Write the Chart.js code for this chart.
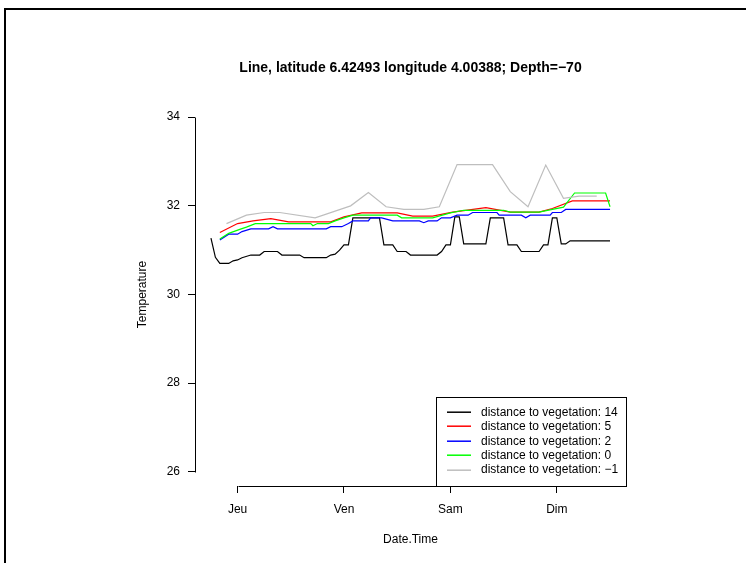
<!DOCTYPE html>
<html>
<head>
<meta charset="utf-8">
<script src="https://cdn.jsdelivr.net/npm/chart.js@4/dist/chart.umd.min.js"></script>
<style>
  html, body { margin: 0; padding: 0; background: #fff; }
  #wrap { width: 746px; height: 563px; }
</style>
</head>
<body>
<div id="wrap"><canvas id="chart" width="746" height="563"></canvas></div>
<script>
// hours since Thursday 00:00 (Jeu)
const dayTicks = [0, 24, 48, 72];
const dayLabels = ["Jeu", "Ven", "Sam", "Dim"];
const tempTicks = [26, 28, 30, 32, 34];

const hours14 = [-6, -5, -4, -2, -1, 0, 1, 3, 5, 6, 9, 10, 14, 15, 20, 21, 22, 23, 24, 25, 26, 32, 33, 35, 36, 38, 39, 45, 46, 47, 48, 49, 50, 51, 56, 57, 60, 61, 63, 64, 68, 69, 70, 71, 72, 73, 74, 75, 84];
const temp14 = [31.27, 30.84, 30.70, 30.70, 30.76, 30.78, 30.83, 30.89, 30.89, 30.97, 30.97, 30.89, 30.89, 30.83, 30.83, 30.89, 30.91, 31.00, 31.12, 31.12, 31.73, 31.73, 31.12, 31.12, 30.97, 30.97, 30.89, 30.89, 30.97, 31.12, 31.12, 31.75, 31.75, 31.14, 31.14, 31.73, 31.73, 31.12, 31.12, 30.97, 30.97, 31.12, 31.12, 31.73, 31.73, 31.14, 31.14, 31.21, 31.21];

const hours5 = [-4, 0, 3.5, 7.5, 11.5, 21, 24, 28, 36, 39.5, 44, 48.5, 56, 61.5, 68, 71, 75.5, 84];
const temp5 = [31.40, 31.60, 31.66, 31.71, 31.64, 31.64, 31.75, 31.84, 31.84, 31.77, 31.77, 31.86, 31.96, 31.86, 31.86, 31.94, 32.11, 32.11];

const hours2 = [-4, -2, 0, 1, 3, 7, 8, 9, 20, 21, 23.5, 25, 26, 29.5, 30, 32.5, 35, 41, 42, 43, 45, 46, 48, 49.5, 52, 53, 58.5, 59, 64, 65, 66, 70.5, 71, 73, 74, 84];
const temp2 = [31.23, 31.36, 31.36, 31.42, 31.48, 31.48, 31.53, 31.48, 31.48, 31.53, 31.53, 31.60, 31.66, 31.66, 31.73, 31.73, 31.66, 31.66, 31.62, 31.66, 31.66, 31.73, 31.73, 31.79, 31.79, 31.85, 31.85, 31.79, 31.79, 31.73, 31.79, 31.79, 31.85, 31.85, 31.92, 31.92];

const hours0 = [-4, -2, 0.5, 2, 4, 16.5, 17, 18, 20.5, 22, 24, 26, 36, 37, 44, 48, 51, 60, 61.5, 68, 71, 73.5, 76, 83, 84];
const temp0 = [31.25, 31.38, 31.47, 31.52, 31.60, 31.60, 31.55, 31.60, 31.60, 31.66, 31.73, 31.79, 31.79, 31.73, 31.73, 31.84, 31.90, 31.90, 31.86, 31.86, 31.92, 31.97, 32.29, 32.29, 31.98];

const hoursM1 = [-2.5, 2, 6, 9.5, 17.5, 25.5, 29.5, 33.5, 37.5, 42, 45.5, 49.5, 57.5, 61.5, 65.5, 69.5, 73.5, 77, 81];
const tempM1 = [31.60, 31.79, 31.85, 31.85, 31.73, 32.00, 32.30, 31.98, 31.92, 31.92, 31.98, 32.93, 32.93, 32.32, 31.98, 32.92, 32.17, 32.22, 32.22];

const seriesNames = ["distance to vegetation: 14", "distance to vegetation: 5", "distance to vegetation: 2", "distance to vegetation: 0", "distance to vegetation: \u22121"];
const seriesColors = ["#000000", "#FF0000", "#0000FF", "#00FF00", "#BEBEBE"];
const seriesHours = [hours14, hours5, hours2, hours0, hoursM1];
const seriesTemps = [temp14, temp5, temp2, temp0, tempM1];

const FONT = "'Liberation Sans', Arial, Helvetica, sans-serif";

function toPoints(hs, ts) {
  return hs.map((h, i) => ({ x: h, y: ts[i] }));
}

// R-like decorations: frame, titles, axis lines, legend box
const decor = {
  id: "decor",
  afterDraw(chart) {
    const ctx = chart.ctx;
    const a = chart.chartArea;
    const xs = chart.scales.x, ys = chart.scales.y;
    ctx.save();

    // outer frame
    ctx.strokeStyle = "#000";
    ctx.lineWidth = 2;
    ctx.strokeRect(5, 9, 900, 700);

    // axis lines from first to last tick
    ctx.lineWidth = 1;
    ctx.beginPath();
    const yTop = Math.round(ys.getPixelForValue(tempTicks[tempTicks.length - 1])) + 0.5;
    const yBot = Math.round(ys.getPixelForValue(tempTicks[0])) + 0.5;
    ctx.moveTo(a.left + 0.5, yTop);
    ctx.lineTo(a.left + 0.5, yBot);
    const xL = Math.round(xs.getPixelForValue(dayTicks[0])) + 0.5;
    const xR = Math.round(xs.getPixelForValue(dayTicks[dayTicks.length - 1])) + 0.5;
    ctx.moveTo(xL, a.bottom + 0.5);
    ctx.lineTo(xR, a.bottom + 0.5);
    ctx.stroke();

    // titles
    ctx.fillStyle = "#000";
    ctx.textAlign = "center";
    ctx.textBaseline = "middle";
    ctx.font = "bold 14px " + FONT;
    ctx.fillText("Line, latitude 6.42493 longitude 4.00388; Depth=\u221270", (a.left + a.right) / 2, 68);
    ctx.font = "12px " + FONT;
    ctx.fillText("Date.Time", (a.left + a.right) / 2, 540);
    ctx.save();
    ctx.translate(143, (a.top + a.bottom) / 2);
    ctx.rotate(-Math.PI / 2);
    ctx.fillText("Temperature", 0, 0);
    ctx.restore();

    // legend, bottom right of plot region
    ctx.font = "12px " + FONT;
    let maxW = 0;
    seriesNames.forEach(n => { maxW = Math.max(maxW, ctx.measureText(n).width); });
    const rowH = 14.4;
    const boxW = Math.round(11 + 24 + 10 + maxW + 8);
    const boxH = Math.round(rowH * seriesNames.length + 17);
    const bx = Math.round(a.right - boxW), by = Math.round(a.bottom - boxH);
    ctx.fillStyle = "#fff";
    ctx.fillRect(bx, by, boxW, boxH);
    ctx.strokeStyle = "#000";
    ctx.lineWidth = 1;
    ctx.strokeRect(bx + 0.5, by + 0.5, boxW, boxH);
    ctx.textAlign = "left";
    seriesNames.forEach((n, i) => {
      const ry = by + 15 + i * rowH;
      ctx.strokeStyle = seriesColors[i];
      ctx.lineWidth = 1.5;
      ctx.beginPath();
      ctx.moveTo(bx + 11, Math.round(ry) + 0.2);
      ctx.lineTo(bx + 35, Math.round(ry) + 0.2);
      ctx.stroke();
      ctx.fillStyle = "#000";
      ctx.fillText(n, bx + 45, ry + 0.5);
    });
    ctx.restore();
  }
};

const chart = new Chart(document.getElementById("chart"), {
  type: "line",
  data: {
    datasets: seriesNames.map((name, i) => ({
      label: name,
      data: toPoints(seriesHours[i], seriesTemps[i]),
      borderColor: seriesColors[i],
      backgroundColor: seriesColors[i],
      borderWidth: 1.2,
      pointRadius: 0,
      tension: 0,
      fill: false,
      order: seriesNames.length - i
    }))
  },
  options: {
    responsive: false,
    animation: false,
    devicePixelRatio: 1,
    layout: { padding: { left: 0, top: 103, right: 120, bottom: 0 } },
    plugins: {
      legend: { display: false },
      title: { display: false },
      tooltip: { enabled: false }
    },
    scales: {
      x: {
        type: "linear",
        min: -9.6,
        max: 87.6,
        afterBuildTicks: s => { s.ticks = dayTicks.map(v => ({ value: v })); },
        afterFit: s => { s.height = 77; },
        grid: { drawOnChartArea: false, drawTicks: true, tickLength: 7, color: "#000", lineWidth: 1 },
        border: { display: false },
        ticks: {
          autoSkip: false,
          maxRotation: 0,
          padding: 9,
          color: "#000",
          font: { family: FONT, size: 12 },
          callback: v => dayLabels[dayTicks.indexOf(v)]
        }
      },
      y: {
        type: "linear",
        min: 25.68,
        max: 34.32,
        afterBuildTicks: s => { s.ticks = tempTicks.map(v => ({ value: v })); },
        afterFit: s => { s.width = 195; },
        grid: { drawOnChartArea: false, drawTicks: true, tickLength: 7, color: "#000", lineWidth: 1 },
        border: { display: false },
        ticks: {
          autoSkip: false,
          padding: 8,
          color: "#000",
          font: { family: FONT, size: 12 },
          callback: v => String(v)
        }
      }
    }
  },
  plugins: [decor]
});
</script>
</body>
</html>
